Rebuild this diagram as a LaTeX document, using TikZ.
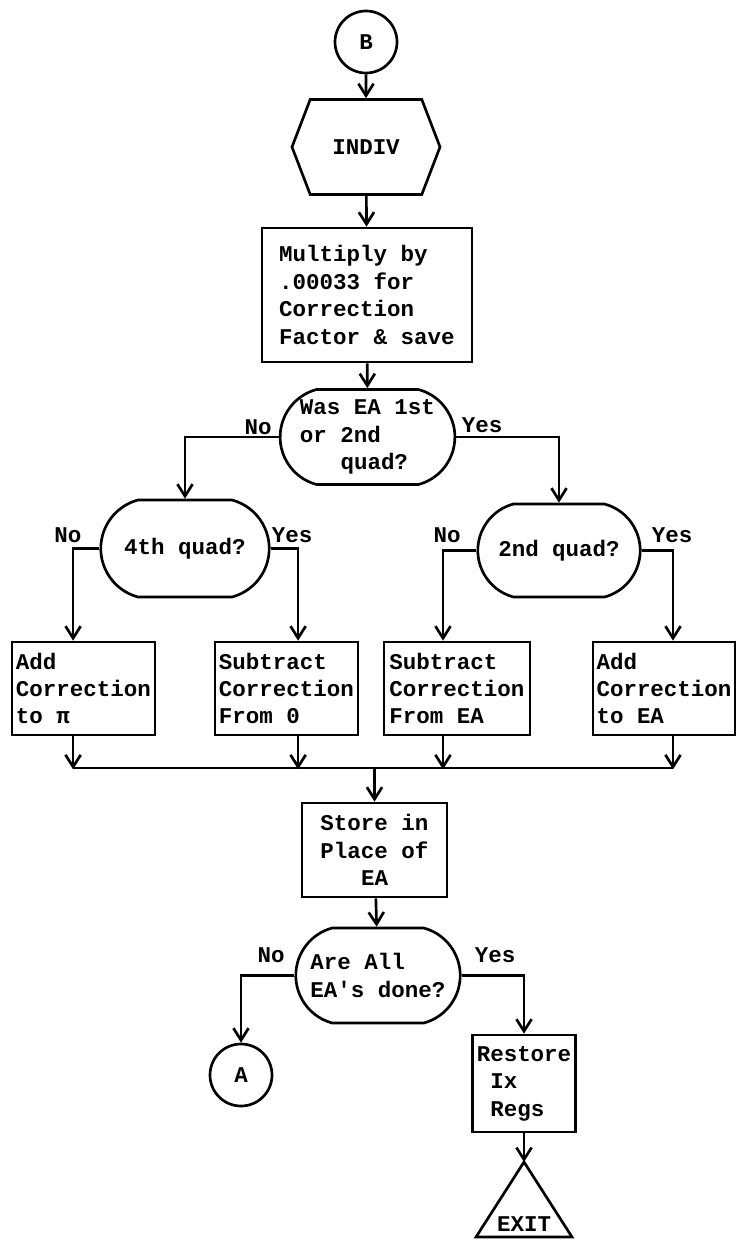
\documentclass[tikz,border=0pt]{standalone}
\usepackage{fontspec}
\setmainfont{Liberation Mono}
\usetikzlibrary{
    positioning,
    arrows.meta,
    shapes.geometric,
    shapes.misc,
    shapes.symbols,
    calc,
}
\newcommand{\flowfont}{\bfseries\fontsize{16}{19.5}\selectfont}
\tikzset{
    % Basic node styles
    connector/.style={circle, draw, line width=1.9pt, minimum size=1.55cm, inner sep=0pt, font=\flowfont},
    prep/.style={signal, signal to=west and east, signal pointer angle=138, draw, line width=1.9pt,
                 minimum width=3.7cm, minimum height=2.375cm, inner sep=0pt, font=\flowfont},
    % Block styles
    process/.style={rectangle, draw, line width=1.9pt, align=left, inner xsep=2pt, inner ysep=2pt,
                    minimum height=2.325cm, font=\flowfont},
    decision/.style={rounded rectangle, rounded rectangle arc length=150, draw, line width=1.9pt,
                     align=left, inner sep=2pt, minimum height=2.375cm, font=\flowfont},
    % Arrow styles
    arrow/.style={-{Straight Barb[length=3mm, width=3.8mm]}, line width=1.9pt},
    line/.style={line width=1.9pt},
}

\begin{document}
\begin{tikzpicture}[
    x=0.025cm, y=-0.025cm,
    branch/.style={font=\flowfont, inner sep=0pt, anchor=base},
]
    \useasboundingbox (0,0) rectangle (741,1240);

    % Top of the chart
    \node[connector] (B) at (366,42) {B};
    \node[prep] (indiv) at (366,147) {INDIV};
    \node[process, minimum width=5.25cm, minimum height=3.35cm] (mult) at (367,295)
        {Multiply by\\.00033 for\\Correction\\Factor \& save};
    \node[decision, minimum width=4.225cm] (quadA) at (367.5,437)
        {Was EA 1st\\or 2nd\\\hphantom{xxx}quad?};

    % Second level decisions
    \node[decision, minimum width=4.35cm, minimum height=2.425cm] (quadD) at (185,548.5) {4th quad?};
    \node[decision, minimum width=4.2cm, minimum height=2.325cm] (quadB) at (559,550.5) {2nd quad?};

    % Corrections
    \node[process, minimum width=3.575cm] (addPi) at (83.5,688.5) {Add\\Correction\\to π};
    \node[process, minimum width=3.575cm] (subZero) at (286.5,688.5) {Subtract\\Correction\\From 0};
    \node[process, minimum width=3.65cm] (subEA) at (457,688.5) {Subtract\\Correction\\From EA};
    \node[process, minimum width=3.55cm] (addEA) at (664,688.5) {Add\\Correction\\to EA};

    % Bottom of the chart
    \node[process, align=center, minimum width=3.625cm, minimum height=2.35cm] (store) at (374.5,850)
        {Store in\\Place of\\EA};
    \node[decision, minimum width=4.25cm] (done) at (378,975.5) {Are All\\EA\textquotesingle s done?};
    \node[connector] (A) at (241,1075) {A};
    \node[process, minimum width=2.575cm, minimum height=2.425cm] (restore) at (524,1083.5)
        {Restore\\\hphantom{x}Ix\\\hphantom{x}Regs};
    \coordinate (exittop) at (524,1162);
    \draw[line] (exittop) -- (476,1237) -- (572,1237) -- cycle;
    \node[branch] (exit) at (524,1231) {EXIT};

    % Branch labels
    \node[branch] (noA) at (258,434) {No};
    \node[branch] (yesA) at (482,432) {Yes};
    \node[branch] (noD) at (68,542) {No};
    \node[branch] (yesD) at (292,542) {Yes};
    \node[branch] (noB) at (447,542) {No};
    \node[branch] (yesB) at (672,542) {Yes};
    \node[branch] (noDone) at (271,962) {No};
    \node[branch] (yesDone) at (495,962) {Yes};

    % Connectors
    \draw[arrow] (B) -- (indiv);
    \draw[arrow] (indiv) -- (mult);
    \draw[arrow] (mult) -- (quadA);
    \draw[arrow] (quadA.west) -| (quadD.north);
    \draw[arrow] (quadA.east) -| (quadB.north);
    \draw[arrow] (quadD.west) -| ([xshift=-2.6mm]addPi.north);
    \draw[arrow] (quadD.east) -| ([xshift=2.9mm]subZero.north);
    \draw[arrow] (quadB.west) -| ([xshift=-3.5mm]subEA.north);
    \draw[arrow] (quadB.east) -| ([xshift=2.25mm]addEA.north);

    % Join the four branches
    \foreach \b/\s in {addPi/-2.6mm, subZero/2.9mm, subEA/-3.5mm, addEA/2.25mm}
        \draw[arrow] ([xshift=\s]\b.south) -- ++(0,33);
    \coordinate (joinL) at (73,768);
    \coordinate (joinR) at (673,768);
    \draw[line] (joinL) -- (joinR);
    \draw[arrow] (store.north |- joinL) -- (store.north);

    \draw[arrow] (store) -- (done);
    \draw[arrow] (done.west) -| (A.north);
    \draw[arrow] (done.east) -| (restore.north);
    \draw[arrow] (restore) -- (exittop);
\end{tikzpicture}
\end{document}
